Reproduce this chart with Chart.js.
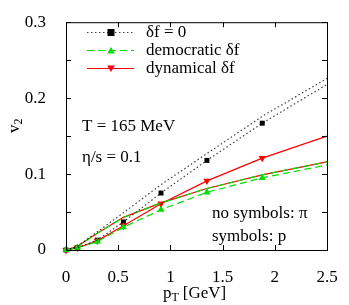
<!DOCTYPE html>
<html>
<head>
<meta charset="utf-8">
<script src="https://cdn.jsdelivr.net/npm/chart.js@4/dist/chart.umd.min.js"></script>
<style>
  html, body { margin: 0; padding: 0; background: #fff; }
  #wrap { width: 349px; height: 305px; }
</style>
</head>
<body>
<div id="wrap"><canvas id="v2chart" width="349" height="305"></canvas></div>
<script>
// pT grid [GeV]
const pT = [0, 0.11, 0.3, 0.55, 0.91, 1.35, 1.88, 2.5];

// v2 values
const pionIdeal = [0, 0.005, 0.024, 0.049, 0.086, 0.127, 0.176, 0.226];
const protonIdeal = [0, 0.003, 0.013, 0.037, 0.075, 0.118, 0.167, 0.218];
const pionDemocratic = [0, 0.005, 0.022, 0.043, 0.062, 0.081, 0.099, 0.116];
const protonDemocratic = [0, 0.003, 0.011, 0.030, 0.053, 0.076, 0.095, 0.112];
const pionDynamical = [0, 0.005, 0.022, 0.043, 0.062, 0.081, 0.099, 0.116];
const protonDynamical = [0, 0.003, 0.012, 0.032, 0.061, 0.091, 0.121, 0.150];

const xTicks = [0, 0.5, 1, 1.5, 2, 2.5];
const yTicks = [0, 0.05, 0.1, 0.15, 0.2, 0.25, 0.3];
const yLabelled = [0, 0.1, 0.2, 0.3];

const legendLabels = ['\u03B4f = 0', 'democratic \u03B4f', 'dynamical \u03B4f'];

const FONT = '"Liberation Serif", "DejaVu Serif", serif';
const FS = 17;
const BLACK = '#000000';
const GREEN = '#00e000';
const RED = '#ff0000';

function toXY(ys) {
    return pT.map((x, i) => ({ x: x, y: ys[i] }));
}

// markers on every proton point but the last (line end)
function markerRadii(r) {
    return pT.map((x, i) => (i === pT.length - 1 ? 0 : r));
}

function lineSet(data, color, dash, marker, radius) {
    return {
        data: toXY(data),
        borderColor: color,
        backgroundColor: color,
        borderWidth: 1.2,
        borderDash: dash,
        pointStyle: marker || false,
        pointRadius: marker ? markerRadii(radius) : 0,
        pointBorderWidth: 0,
        pointRotation: 0,
        tension: 0,
        fill: false,
        clip: false
    };
}

const dotted = [1.5, 2.5];
const dashed = [7, 4];

const datasets = [
    lineSet(pionIdeal, 'rgba(0,0,0,0.75)', dotted, null, 0),
    lineSet(protonIdeal, 'rgba(0,0,0,0.75)', dotted, null, 0),
    lineSet(pionDemocratic, GREEN, dashed, null, 0),
    lineSet(protonDemocratic, GREEN, dashed, 'triangle', 4.2),
    lineSet(pionDynamical, RED, [], null, 0),
    lineSet(protonDynamical, RED, [], 'triangle', 4.2)
];
// black squares drawn on top of the dotted proton line
const squares = lineSet(protonIdeal, BLACK, [], 'rect', 3.5);
squares.showLine = false;
datasets.push(squares);
// downward triangles for dynamical
datasets[5].pointRotation = 180;

// frame, inward ticks, legend, annotations
const decor = {
    id: 'decor',
    afterDatasetsDraw(chart) {
        const { ctx, chartArea: a, scales } = chart;
        const xs = scales.x, ys = scales.y;
        ctx.save();
        ctx.strokeStyle = BLACK;
        ctx.lineWidth = 1;
        ctx.setLineDash([]);
        ctx.strokeRect(a.left + 0.5, a.top + 0.5, a.right - a.left, a.bottom - a.top);

        const t = 5;
        ctx.beginPath();
        xTicks.forEach(v => {
            const px = Math.round(xs.getPixelForValue(v)) + 0.5;
            ctx.moveTo(px, a.bottom); ctx.lineTo(px, a.bottom - t);
            ctx.moveTo(px, a.top); ctx.lineTo(px, a.top + t);
        });
        yTicks.forEach(v => {
            const py = Math.round(ys.getPixelForValue(v)) + 0.5;
            ctx.moveTo(a.left, py); ctx.lineTo(a.left + t, py);
            ctx.moveTo(a.right, py); ctx.lineTo(a.right - t, py);
        });
        ctx.stroke();

        // legend
        const styles = [
            { color: 'rgba(0,0,0,0.75)', dash: dotted, marker: 'square' },
            { color: GREEN, dash: dashed, marker: 'up' },
            { color: RED, dash: [], marker: 'down' }
        ];
        ctx.font = FS + 'px ' + FONT;
        ctx.textBaseline = 'middle';
        ctx.textAlign = 'left';
        styles.forEach((s, i) => {
            const y = 32 + i * 18;
            ctx.strokeStyle = s.color;
            ctx.lineWidth = 1.2;
            ctx.setLineDash(s.dash);
            ctx.beginPath();
            ctx.moveTo(87, y + 0.5); ctx.lineTo(134, y + 0.5);
            ctx.stroke();
            ctx.setLineDash([]);
            const cx = 111;
            if (s.marker === 'square') {
                ctx.fillStyle = BLACK;
                ctx.fillRect(cx - 3.5, y - 3, 7, 7);
            } else {
                ctx.fillStyle = s.color;
                ctx.beginPath();
                if (s.marker === 'up') {
                    ctx.moveTo(cx, y - 3); ctx.lineTo(cx + 3.8, y + 3.5); ctx.lineTo(cx - 3.8, y + 3.5);
                } else {
                    ctx.moveTo(cx, y + 4); ctx.lineTo(cx + 3.8, y - 2.5); ctx.lineTo(cx - 3.8, y - 2.5);
                }
                ctx.closePath();
                ctx.fill();
            }
            ctx.fillStyle = BLACK;
            ctx.fillText(legendLabels[i], 146, y + 1);
        });

        // annotations
        ctx.fillStyle = BLACK;
        ctx.fillText('T = 165 MeV', 82, 127);
        ctx.fillText('\u03B7/s = 0.1', 82, 158);
        ctx.fillText('no symbols: \u03C0', 212, 214);
        ctx.fillText('symbols: p', 212, 237);

        // x axis title p_T [GeV]
        ctx.textBaseline = 'alphabetic';
        let x0 = 163;
        const yb = 298;
        ctx.font = FS + 'px ' + FONT;
        ctx.fillText('p', x0, yb);
        x0 += ctx.measureText('p').width;
        ctx.font = '12px ' + FONT;
        ctx.fillText('T', x0, yb + 3);
        x0 += ctx.measureText('T').width + 4;
        ctx.font = FS + 'px ' + FONT;
        ctx.fillText('[GeV]', x0, yb);

        // y axis title v_2 (rotated)
        ctx.translate(19, 133);
        ctx.rotate(-Math.PI / 2);
        ctx.font = FS + 'px ' + FONT;
        ctx.fillText('v', 0, 0);
        const w = ctx.measureText('v').width;
        ctx.font = '12px ' + FONT;
        ctx.fillText('2', w, 3);
        ctx.restore();
    }
};

new Chart(document.getElementById('v2chart'), {
    type: 'line',
    data: { datasets: datasets },
    options: {
        responsive: false,
        animation: false,
        layout: { padding: { top: 17, right: 22, left: 0, bottom: 0 } },
        plugins: {
            legend: { display: false },
            tooltip: { enabled: false }
        },
        scales: {
            x: {
                type: 'linear',
                min: 0,
                max: 2.5,
                afterFit(scale) { scale.height = 55; },
                afterBuildTicks(scale) { scale.ticks = xTicks.map(v => ({ value: v })); },
                grid: { display: false },
                border: { display: false },
                ticks: {
                    color: BLACK,
                    padding: 9,
                    maxRotation: 0,
                    font: { family: FONT, size: FS },
                    callback: v => String(v)
                }
            },
            y: {
                type: 'linear',
                min: 0,
                max: 0.3,
                afterFit(scale) { scale.width = 66; },
                afterBuildTicks(scale) { scale.ticks = yLabelled.map(v => ({ value: v })); },
                grid: { display: false },
                border: { display: false },
                ticks: {
                    color: BLACK,
                    padding: 12,
                    font: { family: FONT, size: FS },
                    callback: v => String(v)
                }
            }
        }
    },
    plugins: [decor]
});
</script>
</body>
</html>
